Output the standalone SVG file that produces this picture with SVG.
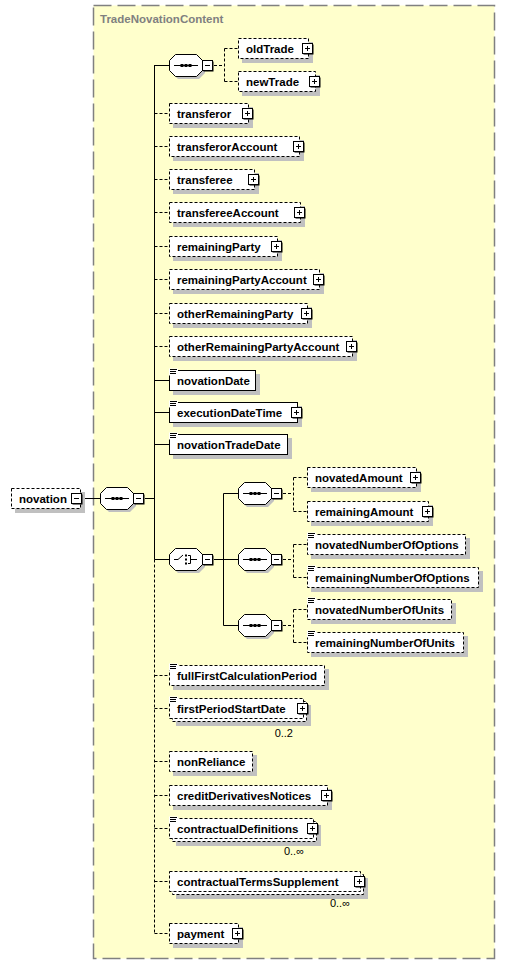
<svg xmlns="http://www.w3.org/2000/svg" xmlns:xlink="http://www.w3.org/1999/xlink" width="506" height="965" viewBox="0 0 506 965">
<style>
.bg{fill:#ffffcc;stroke:#808080;stroke-width:1.5;stroke-dasharray:18,6}
.title{font-family:"Liberation Sans",Arial,sans-serif;font-weight:bold;font-size:11.5px;fill:#808080}
.sh{fill:#c0c0c0}
.box{fill:#fff;stroke:#000;stroke-width:1}
.opt{stroke-dasharray:3,2}
.t{font-family:"Liberation Sans",Arial,sans-serif;font-weight:bold;font-size:11.5px;fill:#000}
.m{font-family:"Liberation Sans",Arial,sans-serif;font-size:11px;fill:#000;text-anchor:end}
.c{fill:none;stroke:#000;stroke-width:1}
.cd{fill:none;stroke:#000;stroke-width:1;stroke-dasharray:3,2}
</style>
<defs>
<g id="plus"><rect x="1.5" y="1.5" width="10" height="10" fill="#000"/><rect x="0.5" y="0.5" width="10" height="10" fill="#fff" stroke="#000"/><path d="M3,5.5H8M5.5,3V8" stroke="#000" fill="none"/></g>
<g id="minus"><rect x="1.5" y="1.5" width="10" height="10" fill="#000"/><rect x="0.5" y="0.5" width="10" height="10" fill="#fff" stroke="#000"/><path d="M3,5.5H8" stroke="#000" fill="none"/></g>
<g id="oct">
<polygon class="sh" points="9,3 30,3 36,9 36,19 30,25 9,25 3,19 3,9"/>
<polygon class="box" points="6.5,0.5 27.5,0.5 33.5,6.5 33.5,16.5 27.5,22.5 6.5,22.5 0.5,16.5 0.5,6.5"/>
<use xlink:href="#minus" href="#minus" x="33" y="6"/>
</g>
<g id="seq"><use xlink:href="#oct" href="#oct"/><path d="M5,11.5H29" stroke="#000" fill="none"/><rect x="11.5" y="10" width="3" height="3"/><rect x="15.5" y="10" width="3" height="3"/><rect x="19.5" y="10" width="3" height="3"/></g>
<g id="cho"><use xlink:href="#oct" href="#oct"/><path d="M5,11.5H9L14,7M19,7.5H21.5V15.5H19M21.5,11.5H28" stroke="#000" fill="none"/><rect x="16" y="6.5" width="2" height="2"/><rect x="16" y="10.5" width="2" height="2"/><rect x="16" y="14.5" width="2" height="2"/></g>
<g id="ic"><rect x="0" y="-1.5" width="9" height="7" fill="#fff"/><path d="M1,-0.5H8M1,1.5H7M1,3.5H7" stroke="#000" fill="none"/></g>
</defs>

<rect class="bg" x="93.5" y="5.5" width="401" height="953"/>
<text class="title" x="100" y="22.5">TradeNovationContent</text>

<g id="connectors">
<path class="c" d="M82,498.5H100M145,498.5H154.5M154.5,65V559.5M154.5,65.5H170M154.5,380.5H169M154.5,412.5H169M154.5,444.5H169M154.5,559.5H169"/>
<path class="cd" d="M154.5,559.5V933.5"/>
<path class="cd" d="M154.5,113.5H169M154.5,146.5H169M154.5,179.5H169M154.5,212.5H169M154.5,246.5H169M154.5,279.5H169M154.5,313.5H169M154.5,346.5H169M154.5,675.5H169M154.5,708.5H169M154.5,761.5H169M154.5,795.5H169M154.5,828.5H169M154.5,881.5H169M154.5,933.5H169"/>
<path class="cd" d="M214,65.5H224.5M224.5,48.5V81.5M224.5,48.5H238M224.5,81.5H238"/>
<path class="c" d="M214,559.5H223.5M223.5,493.5V625.5M223.5,493.5H238M223.5,559.5H238M223.5,625.5H238"/>
<path class="cd" d="M283,493.5H293.5M293.5,477.5V511.5M293.5,477.5H307M293.5,511.5H307"/>
<path class="cd" d="M283,559.5H293.5M293.5,544.5V577.5M293.5,544.5H307M293.5,577.5H307"/>
<path class="cd" d="M283,625.5H293.5M293.5,609.5V642.5M293.5,609.5H307M293.5,642.5H307"/>
</g>

<g id="novation">
<rect class="sh" x="15" y="492" width="70" height="21"/>
<rect class="box opt" x="11.5" y="488.5" width="69" height="20"/>
<text class="t" x="19" y="502.5">novation</text>
<use xlink:href="#minus" href="#minus" x="71" y="493"/>
</g>
<g id="novation-sequence"><use xlink:href="#seq" href="#seq" x="100" y="487"/></g>
<g id="trade-sequence"><use xlink:href="#seq" href="#seq" x="169" y="54"/></g>

<g id="oldTrade">
<rect class="sh" x="242" y="42" width="71" height="21"/>
<rect class="box opt" x="238.5" y="38.5" width="70" height="20"/>
<text class="t" x="246" y="52.5">oldTrade</text>
<use xlink:href="#plus" href="#plus" x="302" y="43"/>
</g>
<g id="newTrade">
<rect class="sh" x="242" y="75" width="78" height="21"/>
<rect class="box opt" x="238.5" y="71.5" width="77" height="20"/>
<text class="t" x="246" y="85.5">newTrade</text>
<use xlink:href="#plus" href="#plus" x="309" y="76"/>
</g>
<g id="transferor">
<rect class="sh" x="173" y="107" width="80" height="21"/>
<rect class="box opt" x="169.5" y="103.5" width="79" height="20"/>
<text class="t" x="177" y="117.5">transferor</text>
<use xlink:href="#plus" href="#plus" x="242" y="108"/>
</g>
<g id="transferorAccount">
<rect class="sh" x="173" y="140" width="131" height="21"/>
<rect class="box opt" x="169.5" y="136.5" width="130" height="20"/>
<text class="t" x="177" y="150.5">transferorAccount</text>
<use xlink:href="#plus" href="#plus" x="293" y="141"/>
</g>
<g id="transferee">
<rect class="sh" x="173" y="173" width="86" height="21"/>
<rect class="box opt" x="169.5" y="169.5" width="85" height="20"/>
<text class="t" x="177" y="183.5">transferee</text>
<use xlink:href="#plus" href="#plus" x="248" y="174"/>
</g>
<g id="transfereeAccount">
<rect class="sh" x="173" y="206" width="132" height="21"/>
<rect class="box opt" x="169.5" y="202.5" width="131" height="20"/>
<text class="t" x="177" y="216.5">transfereeAccount</text>
<use xlink:href="#plus" href="#plus" x="294" y="207"/>
</g>
<g id="remainingParty">
<rect class="sh" x="173" y="240" width="109" height="21"/>
<rect class="box opt" x="169.5" y="236.5" width="108" height="20"/>
<text class="t" x="177" y="250.5">remainingParty</text>
<use xlink:href="#plus" href="#plus" x="271" y="241"/>
</g>
<g id="remainingPartyAccount">
<rect class="sh" x="173" y="273" width="151" height="21"/>
<rect class="box opt" x="169.5" y="269.5" width="150" height="20"/>
<text class="t" x="177" y="283.5">remainingPartyAccount</text>
<use xlink:href="#plus" href="#plus" x="313" y="274"/>
</g>
<g id="otherRemainingParty">
<rect class="sh" x="173" y="307" width="139" height="21"/>
<rect class="box opt" x="169.5" y="303.5" width="138" height="20"/>
<text class="t" x="177" y="317.5">otherRemainingParty</text>
<use xlink:href="#plus" href="#plus" x="301" y="308"/>
</g>
<g id="otherRemainingPartyAccount">
<rect class="sh" x="173" y="340" width="184" height="21"/>
<rect class="box opt" x="169.5" y="336.5" width="183" height="20"/>
<text class="t" x="177" y="350.5">otherRemainingPartyAccount</text>
<use xlink:href="#plus" href="#plus" x="346" y="341"/>
</g>
<g id="novationDate">
<rect class="sh" x="173" y="374" width="87" height="21"/>
<rect class="box" x="169.5" y="370.5" width="86" height="20"/>
<use xlink:href="#ic" href="#ic" x="169" y="370"/>
<text class="t" x="177" y="384.5">novationDate</text>
</g>
<g id="executionDateTime">
<rect class="sh" x="173" y="406" width="129" height="21"/>
<rect class="box" x="169.5" y="402.5" width="128" height="20"/>
<use xlink:href="#ic" href="#ic" x="169" y="402"/>
<text class="t" x="177" y="416.5">executionDateTime</text>
<use xlink:href="#plus" href="#plus" x="291" y="407"/>
</g>
<g id="novationTradeDate">
<rect class="sh" x="173" y="438" width="119" height="21"/>
<rect class="box" x="169.5" y="434.5" width="118" height="20"/>
<use xlink:href="#ic" href="#ic" x="169" y="434"/>
<text class="t" x="177" y="448.5">novationTradeDate</text>
</g>

<g id="choice"><use xlink:href="#cho" href="#cho" x="169" y="548"/></g>
<g id="amount-sequence"><use xlink:href="#seq" href="#seq" x="238" y="482"/></g>
<g id="options-sequence"><use xlink:href="#seq" href="#seq" x="238" y="548"/></g>
<g id="units-sequence"><use xlink:href="#seq" href="#seq" x="238" y="614"/></g>

<g id="novatedAmount">
<rect class="sh" x="311" y="471" width="110" height="21"/>
<rect class="box opt" x="307.5" y="467.5" width="109" height="20"/>
<text class="t" x="315" y="481.5">novatedAmount</text>
<use xlink:href="#plus" href="#plus" x="410" y="472"/>
</g>
<g id="remainingAmount">
<rect class="sh" x="311" y="505" width="122" height="21"/>
<rect class="box opt" x="307.5" y="501.5" width="121" height="20"/>
<text class="t" x="315" y="515.5">remainingAmount</text>
<use xlink:href="#plus" href="#plus" x="422" y="506"/>
</g>
<g id="novatedNumberOfOptions">
<rect class="sh" x="311" y="538" width="159" height="21"/>
<rect class="box opt" x="307.5" y="534.5" width="158" height="20"/>
<use xlink:href="#ic" href="#ic" x="307" y="534"/>
<text class="t" x="315" y="548.5">novatedNumberOfOptions</text>
</g>
<g id="remainingNumberOfOptions">
<rect class="sh" x="311" y="571" width="172" height="21"/>
<rect class="box opt" x="307.5" y="567.5" width="171" height="20"/>
<use xlink:href="#ic" href="#ic" x="307" y="567"/>
<text class="t" x="315" y="581.5">remainingNumberOfOptions</text>
</g>
<g id="novatedNumberOfUnits">
<rect class="sh" x="311" y="603" width="145" height="21"/>
<rect class="box opt" x="307.5" y="599.5" width="144" height="20"/>
<use xlink:href="#ic" href="#ic" x="307" y="599"/>
<text class="t" x="315" y="613.5">novatedNumberOfUnits</text>
</g>
<g id="remainingNumberOfUnits">
<rect class="sh" x="311" y="636" width="157" height="21"/>
<rect class="box opt" x="307.5" y="632.5" width="156" height="20"/>
<use xlink:href="#ic" href="#ic" x="307" y="632"/>
<text class="t" x="315" y="646.5">remainingNumberOfUnits</text>
</g>

<g id="fullFirstCalculationPeriod">
<rect class="sh" x="173" y="669" width="156" height="21"/>
<rect class="box opt" x="169.5" y="665.5" width="155" height="20"/>
<use xlink:href="#ic" href="#ic" x="169" y="665"/>
<text class="t" x="177" y="679.5">fullFirstCalculationPeriod</text>
</g>
<g id="firstPeriodStartDate">
<rect class="sh" x="176" y="705" width="135" height="21"/>
<rect class="box opt" x="172.5" y="701.5" width="134" height="20"/>
<rect class="box opt" x="169.5" y="698.5" width="134" height="20"/>
<use xlink:href="#ic" href="#ic" x="169" y="698"/>
<text class="t" x="177" y="712.5">firstPeriodStartDate</text>
<use xlink:href="#plus" href="#plus" x="297" y="703"/>
<text class="m" x="293" y="736.5">0..2</text>
</g>
<g id="nonReliance">
<rect class="sh" x="173" y="755" width="84" height="21"/>
<rect class="box opt" x="169.5" y="751.5" width="83" height="20"/>
<text class="t" x="177" y="765.5">nonReliance</text>
</g>
<g id="creditDerivativesNotices">
<rect class="sh" x="173" y="789" width="159" height="21"/>
<rect class="box opt" x="169.5" y="785.5" width="158" height="20"/>
<text class="t" x="177" y="799.5">creditDerivativesNotices</text>
<use xlink:href="#plus" href="#plus" x="321" y="790"/>
</g>
<g id="contractualDefinitions">
<rect class="sh" x="176" y="825" width="145" height="21"/>
<rect class="box opt" x="172.5" y="821.5" width="144" height="20"/>
<rect class="box opt" x="169.5" y="818.5" width="144" height="20"/>
<use xlink:href="#ic" href="#ic" x="169" y="818"/>
<text class="t" x="177" y="832.5">contractualDefinitions</text>
<use xlink:href="#plus" href="#plus" x="307" y="823"/>
<text class="m" x="304" y="855">0..∞</text>
</g>
<g id="contractualTermsSupplement">
<rect class="sh" x="176" y="878" width="192" height="21"/>
<rect class="box opt" x="172.5" y="874.5" width="191" height="20"/>
<rect class="box opt" x="169.5" y="871.5" width="191" height="20"/>
<text class="t" x="177" y="885.5">contractualTermsSupplement</text>
<use xlink:href="#plus" href="#plus" x="354" y="876"/>
<text class="m" x="350" y="907">0..∞</text>
</g>
<g id="payment">
<rect class="sh" x="173" y="927" width="70" height="21"/>
<rect class="box opt" x="169.5" y="923.5" width="69" height="20"/>
<text class="t" x="177" y="937.5">payment</text>
<use xlink:href="#plus" href="#plus" x="232" y="928"/>
</g>
</svg>
